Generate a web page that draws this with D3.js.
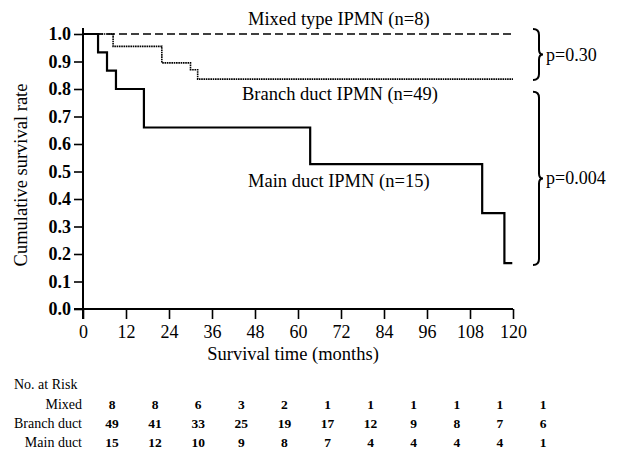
<!DOCTYPE html>
<html>
<head>
<meta charset="utf-8">
<script src="https://cdn.jsdelivr.net/npm/d3@7"></script>
<style>
  body { margin: 0; background: #fff; }
  text { font-family: "Liberation Serif", "Times New Roman", serif; fill: #000; }
</style>
</head>
<body>
<div id="km-chart"></div>
<script>
// survival curves: [month, cumulative survival]
var mixedCurve = [[0, 1], [120, 1]];
var branchCurve = [[0, 1], [8.4, 0.955], [22, 0.895], [30, 0.87], [32, 0.836], [120, 0.836]];
var mainCurve = [[0, 1], [4.2, 0.933], [6.7, 0.867], [9.2, 0.8], [17, 0.66], [63.4, 0.527],
  [111.4, 0.349], [117.6, 0.167], [119.8, 0.167]];

var xTicks = [0, 12, 24, 36, 48, 60, 72, 84, 96, 108, 120];
var yTicks = [0, 0.1, 0.2, 0.3, 0.4, 0.5, 0.6, 0.7, 0.8, 0.9, 1.0];

var riskGroups = ["Mixed", "Branch duct", "Main duct"];
var riskMixed = [8, 8, 6, 3, 2, 1, 1, 1, 1, 1, 1];
var riskBranch = [49, 41, 33, 25, 19, 17, 12, 9, 8, 7, 6];
var riskMain = [15, 12, 10, 9, 8, 7, 4, 4, 4, 4, 1];

var curveLabels = ["Mixed type IPMN (n=8)", "Branch duct IPMN (n=49)", "Main duct IPMN (n=15)"];
var pLabels = ["p=0.30", "p=0.004"];

function draw() {
  var width = 617, height = 466;
  var svg = d3.select("#km-chart").append("svg")
    .attr("width", width).attr("height", height);

  var x = d3.scaleLinear().domain([0, 120]).range([83, 513]);
  var y = d3.scaleLinear().domain([0, 1]).range([309, 34]);

  var line = d3.line()
    .x(function (d) { return x(d[0]); })
    .y(function (d) { return y(d[1]); })
    .curve(d3.curveStepAfter);

  // y轴
  var yAxis = svg.append("g")
    .attr("transform", "translate(" + x(0) + ",0)")
    .call(d3.axisLeft(y).tickValues(yTicks).tickFormat(d3.format(".1f")).tickSize(9).tickPadding(3));
  yAxis.select(".domain").attr("d", "M0," + (y(1) - 6) + "V" + (y(0) + 10)).attr("stroke-width", 2);
  yAxis.selectAll(".tick line").attr("stroke-width", 1.6);
  yAxis.selectAll("text").style("font-size", "18px").style("font-weight", "bold")
    .style("font-family", '"Liberation Serif", serif');

  // x轴
  var xAxis = svg.append("g")
    .attr("transform", "translate(0," + y(0) + ")")
    .call(d3.axisBottom(x).tickValues(xTicks).tickSize(10).tickPadding(6));
  xAxis.select(".domain").attr("d", "M" + (x(0) - 9) + ",0H" + x(120)).attr("stroke-width", 2);
  xAxis.selectAll(".tick line").attr("stroke-width", 1.6);
  xAxis.selectAll("text").style("font-size", "18px")
    .style("font-family", '"Liberation Serif", serif');

  // curves
  svg.append("path").datum(mixedCurve).attr("d", line)
    .attr("fill", "none").attr("stroke", "#000").attr("stroke-width", 1.6)
    .attr("stroke-dasharray", "8,4");
  svg.append("path").datum(branchCurve).attr("d", line)
    .attr("fill", "none").attr("stroke", "#000").attr("stroke-width", 1.6)
    .attr("stroke-dasharray", "1.6,0.7");
  svg.append("path").datum(mainCurve).attr("d", line)
    .attr("fill", "none").attr("stroke", "#000").attr("stroke-width", 2.2);

  // curve labels
  var labelPos = [[248, 25], [242, 100], [248, 187]];
  svg.selectAll(".curve-label").data(curveLabels).enter().append("text")
    .attr("class", "curve-label")
    .attr("x", function (d, i) { return labelPos[i][0]; })
    .attr("y", function (d, i) { return labelPos[i][1]; })
    .style("font-size", "18.5px")
    .text(function (d) { return d; });

  // braces
  function brace(x0, top, bottom) {
    var mid = (top + bottom) / 2, w = 6;
    return "M" + x0 + "," + top +
      "Q" + (x0 + w) + "," + top + " " + (x0 + w) + "," + (top + 6) +
      "V" + (mid - 5) +
      "Q" + (x0 + w) + "," + mid + " " + (x0 + w + 4) + "," + mid +
      "Q" + (x0 + w) + "," + mid + " " + (x0 + w) + "," + (mid + 5) +
      "V" + (bottom - 6) +
      "Q" + (x0 + w) + "," + bottom + " " + x0 + "," + bottom;
  }
  var braces = [[y(1.0) - 5, y(0.836) + 1], [y(0.79), y(0.167) + 2]];
  svg.selectAll(".brace").data(braces).enter().append("path")
    .attr("class", "brace")
    .attr("d", function (d) { return brace(533, d[0], d[1]); })
    .attr("fill", "none").attr("stroke", "#000").attr("stroke-width", 2);
  svg.selectAll(".p-label").data(pLabels).enter().append("text")
    .attr("class", "p-label")
    .attr("x", 546)
    .attr("y", function (d, i) { return (braces[i][0] + braces[i][1]) / 2 + 6; })
    .style("font-size", "18px")
    .text(function (d) { return d; });

  // axis titles
  svg.append("text")
    .attr("transform", "translate(27," + 175 + ")rotate(-90)")
    .attr("text-anchor", "middle")
    .style("font-size", "18.5px")
    .text("Cumulative survival rate");
  svg.append("text")
    .attr("x", 293).attr("y", 360)
    .attr("text-anchor", "middle")
    .style("font-size", "18.5px")
    .text("Survival time (months)");

  // risk table
  var col = d3.scaleLinear().domain([0, 120]).range([112, 543]);
  var rowY = [409, 428, 447];
  svg.append("text").attr("x", 14).attr("y", 389)
    .style("font-size", "14px").text("No. at Risk");
  var riskRows = [riskMixed, riskBranch, riskMain];
  riskRows.forEach(function (row, r) {
    svg.append("text")
      .attr("x", 82).attr("y", rowY[r])
      .attr("text-anchor", "end")
      .style("font-size", "14px")
      .text(riskGroups[r]);
    svg.selectAll(".risk-" + r).data(row).enter().append("text")
      .attr("x", function (d, i) { return col(xTicks[i]); })
      .attr("y", rowY[r])
      .attr("text-anchor", "middle")
      .style("font-size", "13.5px")
      .style("font-weight", "bold")
      .text(function (d) { return d; });
  });
}
draw();
</script>
</body>
</html>
